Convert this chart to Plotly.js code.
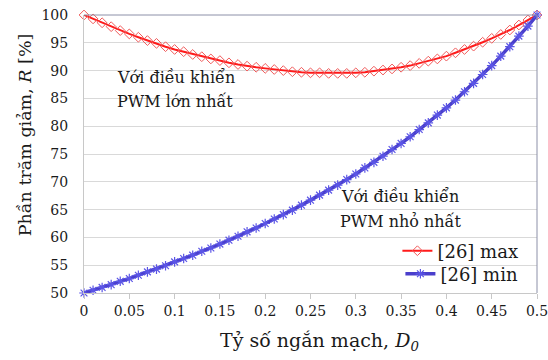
<!DOCTYPE html>
<html>
<head>
<meta charset="utf-8">
<script src="https://cdn.plot.ly/plotly-3.0.1.min.js"></script>
<style>
  html, body { margin: 0; padding: 0; background: #fff; }
  #chart { width: 548px; height: 360px; }
</style>
</head>
<body>
<div id="chart"></div>
<script>
// Short-circuit ratio D0, from 0 to 0.5 in steps of 0.01
const d0 = [
  0.00, 0.01, 0.02, 0.03, 0.04, 0.05, 0.06, 0.07, 0.08, 0.09,
  0.10, 0.11, 0.12, 0.13, 0.14, 0.15, 0.16, 0.17, 0.18, 0.19,
  0.20, 0.21, 0.22, 0.23, 0.24, 0.25, 0.26, 0.27, 0.28, 0.29,
  0.30, 0.31, 0.32, 0.33, 0.34, 0.35, 0.36, 0.37, 0.38, 0.39,
  0.40, 0.41, 0.42, 0.43, 0.44, 0.45, 0.46, 0.47, 0.48, 0.49, 0.50
];

// Reduction percentage R [%] with maximum PWM control
const rMax = [
  100.0, 99.3, 98.6, 97.9, 97.2, 96.6, 96.0, 95.4, 94.9, 94.3,
  93.8, 93.4, 92.9, 92.5, 92.1, 91.8, 91.4, 91.1, 90.8, 90.6,
  90.4, 90.2, 90.0, 89.8, 89.7, 89.6, 89.6, 89.5, 89.5, 89.5,
  89.6, 89.7, 89.9, 90.1, 90.3, 90.6, 90.9, 91.3, 91.7, 92.1,
  92.6, 93.2, 93.8, 94.4, 95.1, 95.8, 96.5, 97.3, 98.2, 99.1, 100.0
];

// Reduction percentage R [%] with minimum PWM control
const rMin = [
  50.0, 50.5, 51.0, 51.5, 52.1, 52.6, 53.2, 53.8, 54.3, 54.9,
  55.6, 56.2, 56.8, 57.5, 58.1, 58.8, 59.5, 60.2, 61.0, 61.7,
  62.5, 63.3, 64.1, 64.9, 65.8, 66.7, 67.6, 68.5, 69.4, 70.4,
  71.4, 72.5, 73.5, 74.6, 75.8, 76.9, 78.1, 79.4, 80.6, 82.0,
  83.3, 84.7, 86.2, 87.7, 89.3, 90.9, 92.6, 94.3, 96.2, 98.0, 100.0
];

const seriesNames = ['[26] max', '[26] min'];
const xTickVals = [0, 0.05, 0.1, 0.15, 0.2, 0.25, 0.3, 0.35, 0.4, 0.45, 0.5];
const xTickText = ['0', '0.05', '0.1', '0.15', '0.2', '0.25', '0.3', '0.35', '0.4', '0.45', '0.5'];
const yTickVals = [50, 55, 60, 65, 70, 75, 80, 85, 90, 95, 100];
const xTitle = 'Tỷ số ngắn mạch, <i>D</i><sub><i>0</i></sub>';
const yTitle = 'Phần trăm giảm, <i>R</i> [%]';

const serif = 'DejaVu Serif';
const ink = '#1a1a1a';

const traces = [
  {
    x: d0, y: rMax, name: seriesNames[0], legend: 'legend',
    type: 'scatter', mode: 'lines+markers', cliponaxis: false,
    line: { color: '#ff1a1a', width: 2 },
    marker: { symbol: 'diamond-open', size: 7.5, color: '#f05a5a', line: { width: 1 } }
  },
  {
    x: d0, y: rMin, name: seriesNames[1], legend: 'legend2',
    type: 'scatter', mode: 'lines+markers', cliponaxis: false,
    line: { color: '#4a3fcc', width: 3.5 },
    marker: { symbol: 'asterisk-open', size: 8, color: '#5b55e6', line: { width: 1.2 } }
  }
];

// one legend box per series so each row can sit at its own height
const legendStyle = (yPos) => ({
  x: 0.97, xanchor: 'right', y: yPos, yanchor: 'middle',
  bgcolor: 'rgba(0,0,0,0)', borderwidth: 0,
  font: { family: serif, size: 18, color: ink },
  itemwidth: 30
});

const layout = {
  width: 548, height: 360,
  margin: { l: 84, r: 11, t: 15, b: 67 },
  paper_bgcolor: '#ffffff', plot_bgcolor: '#ffffff',
  font: { family: serif, color: ink, size: 14 },
  showlegend: true,
  legend: legendStyle(0.151),
  legend2: legendStyle(0.068),
  xaxis: {
    range: [0, 0.5], tickmode: 'array', tickvals: xTickVals, ticktext: xTickText,
    showgrid: false, zeroline: false,
    showline: true, linecolor: '#c8c8c8', linewidth: 1,
    ticks: 'outside', ticklen: 5, tickcolor: '#c8c8c8',
    ticklabeloverflow: 'allow',
    tickfont: { family: serif, size: 14, color: ink }
  },
  yaxis: {
    range: [50, 100], tickmode: 'array', tickvals: yTickVals,
    showgrid: true, gridcolor: '#d9d9d9', gridwidth: 1, zeroline: false,
    showline: true, linecolor: '#c8c8c8', linewidth: 1,
    ticks: 'outside', ticklen: 12, tickcolor: 'rgba(0,0,0,0)',
    ticklabeloverflow: 'allow',
    tickfont: { family: serif, size: 14, color: ink }
  },
  shapes: [
    { type: 'line', xref: 'paper', yref: 'paper', x0: 0, x1: 1, y0: 1, y1: 1, line: { color: '#8c90a8', width: 1 } },
    { type: 'line', xref: 'paper', yref: 'paper', x0: 1, x1: 1, y0: 0, y1: 1, line: { color: '#8c90a8', width: 1 } }
  ],
  annotations: [
    // axis titles
    { x: 0.519, y: -0.173, xref: 'paper', yref: 'paper', xanchor: 'center', yanchor: 'middle', showarrow: false,
      text: xTitle, font: { family: serif, size: 19, color: ink } },
    { x: -0.130, y: 0.568, xref: 'paper', yref: 'paper', xanchor: 'center', yanchor: 'middle', showarrow: false,
      textangle: -90, text: yTitle, font: { family: serif, size: 17.5, color: ink } },
    // curve labels
    { x: 0.034, y: 88.7, xref: 'x', yref: 'y', xanchor: 'left', showarrow: false,
      text: 'Với điều khiển', font: { family: serif, size: 16, color: ink } },
    { x: 0.034, y: 84.4, xref: 'x', yref: 'y', xanchor: 'left', showarrow: false,
      text: 'PWM lớn nhất', font: { family: serif, size: 16, color: ink } },
    { x: 0.349, y: 67.3, xref: 'x', yref: 'y', xanchor: 'center', showarrow: false,
      text: 'Với điều khiển', font: { family: serif, size: 16, color: ink } },
    { x: 0.349, y: 62.95, xref: 'x', yref: 'y', xanchor: 'center', showarrow: false,
      text: 'PWM nhỏ nhất', font: { family: serif, size: 16, color: ink } }
  ]
};

Plotly.newPlot('chart', traces, layout, { displayModeBar: false, staticPlot: true });
</script>
</body>
</html>
